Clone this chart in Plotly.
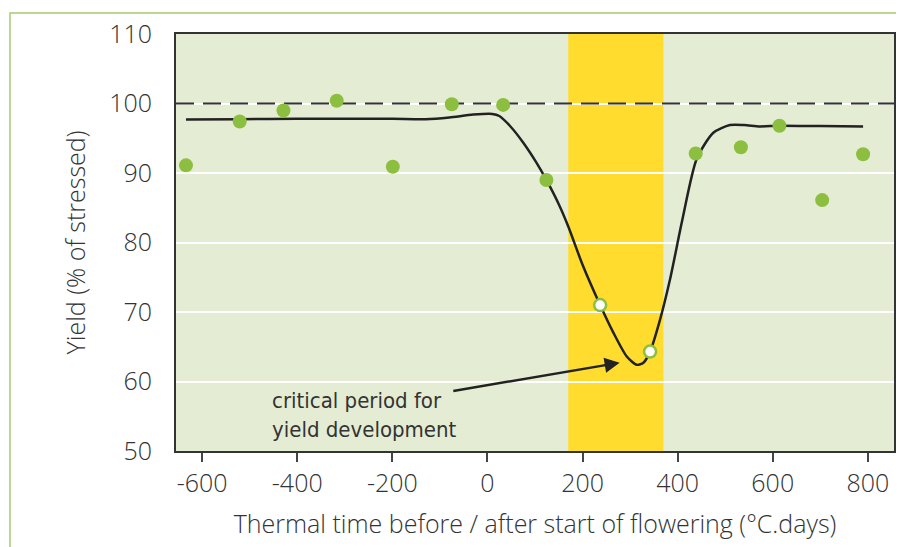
import plotly.graph_objects as go

# Observed yields (filled green points)
obs_x = [-634, -521, -429, -317, -199, -75, 33, 124, 438, 533, 614, 704, 790]
obs_y = [91.1, 97.4, 99.0, 100.4, 90.9, 99.9, 99.8, 89.0, 92.8, 93.7, 96.8, 86.1, 92.7]

# Critical-period points (open markers)
crit_x = [237, 342]
crit_y = [71.0, 64.3]

# Fitted response curve
curve_x = [-634, -520, -400, -300, -200, -130, -80, -30, 10, 25, 47, 75, 103, 124, 150, 170,
           200, 237, 265, 293, 314, 328, 342, 363, 384, 410, 440, 475, 510, 540, 573, 614, 700, 790]
curve_y = [97.7, 97.75, 97.8, 97.8, 97.8, 97.75, 98.0, 98.4, 98.5, 98.2, 96.8, 94.4, 91.5, 89.0,
           85.5, 82.3, 76.8, 71.0, 67.0, 63.6, 62.4, 62.7, 64.3, 68.9, 74.7, 83.3, 92.0, 95.8,
           96.9, 96.9, 96.7, 96.8, 96.75, 96.7]

x_ticks = [-600, -400, -200, 0, 200, 400, 600, 800]
x_tick_text = ["-600", "-400", "-200", "0", "200", "400", "600", "800"]
y_ticks = [50, 60, 70, 80, 90, 100, 110]
x_range = [-655, 855]
y_range = [50, 110]
critical_period = [170, 370]
reference_yield = 100

FONT = "Open Sans"
NARROW = "Liberation Sans Narrow, DejaVu Sans Condensed, Lato"
TXT = "#333333"
GREEN = "#8cbf3f"

fig = go.Figure()
fig.add_trace(go.Scatter(x=x_range, y=[reference_yield, reference_yield], mode="lines",
                         line=dict(color="#333333", width=2, dash="18px,9px"),
                         hoverinfo="skip", showlegend=False))
fig.add_trace(go.Scatter(x=curve_x, y=curve_y, mode="lines",
                         line=dict(color="#222222", width=2.5, shape="spline", smoothing=0.7),
                         hoverinfo="skip", showlegend=False))
fig.add_trace(go.Scatter(x=obs_x, y=obs_y, mode="markers",
                         marker=dict(color=GREEN, size=14, line=dict(width=0)),
                         showlegend=False))
fig.add_trace(go.Scatter(x=crit_x, y=crit_y, mode="markers",
                         marker=dict(color="white", size=12, line=dict(color=GREEN, width=2.5)),
                         showlegend=False))

fig.add_shape(type="rect", xref="x", yref="paper", x0=critical_period[0], x1=critical_period[1],
              y0=0, y1=1, fillcolor="#ffdc2e", line=dict(width=0), layer="between")
# outer light-green frame
fig.add_shape(type="rect", xref="paper", yref="paper", x0=-0.2312, x1=1.2, y0=-0.5, y1=1.0504,
              line=dict(color="#a6cc6b", width=1.5), fillcolor="rgba(0,0,0,0)", layer="above")

fig.add_annotation(x=278, y=62.7, ax=-75, ay=58.6, xref="x", yref="y", axref="x", ayref="y",
                   showarrow=True, arrowhead=2, arrowsize=1.2, arrowwidth=2.5, arrowcolor="#222222",
                   text="")
fig.add_annotation(x=-458, y=55.2, xref="x", yref="y", xanchor="left", yanchor="middle",
                   text="critical period for<br>yield development", showarrow=False, align="left",
                   font=dict(family=NARROW, size=22, color="#333333"))

fig.update_layout(
    width=896, height=539,
    margin=dict(l=168, r=10, t=26, b=96, autoexpand=False),
    paper_bgcolor="white", plot_bgcolor="#e4ecd4",
    font=dict(family=FONT, color=TXT),
)
tickfont = dict(size=25, family=FONT, color=TXT, weight=300)
titlefont = dict(size=25, family=FONT, color=TXT, weight=300)
fig.update_xaxes(range=x_range, tickvals=x_ticks, ticktext=x_tick_text, ticks="outside", ticklen=9,
                 tickwidth=1.5, tickcolor="#444444", showgrid=False, zeroline=False, showline=True,
                 mirror=True, linecolor="#333333", linewidth=2, tickfont=tickfont, automargin=False,
                 title=dict(text="Thermal time before / after start of flowering (°C.days)",
                            font=titlefont, standoff=17))
fig.update_yaxes(range=y_range, tickvals=y_ticks, ticks="", showgrid=True, gridcolor="white",
                 gridwidth=1.5, zeroline=False, showline=True, mirror=True, linecolor="#333333",
                 linewidth=2, tickfont=tickfont, ticklabelstandoff=17, automargin=False,
                 title=dict(text="Yield (% of stressed)", font=titlefont, standoff=16))

fig.write_html("out.html")
